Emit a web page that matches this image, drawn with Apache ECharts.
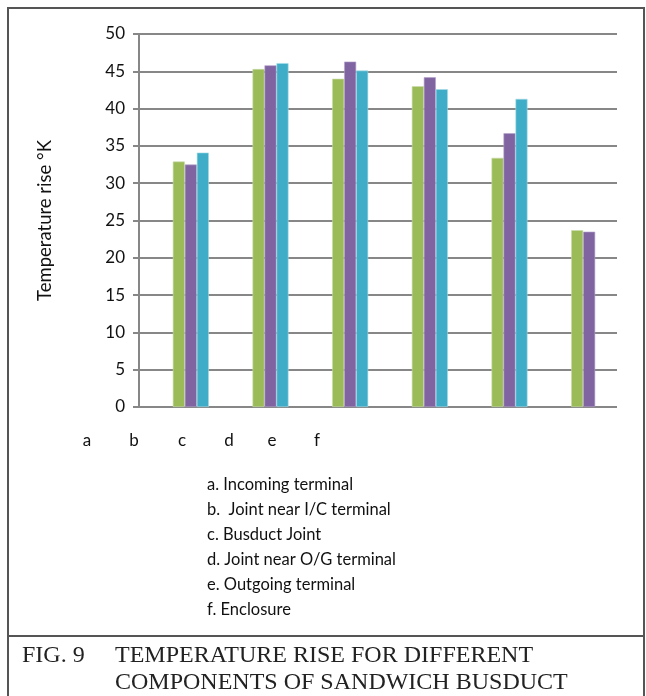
<!DOCTYPE html>
<html>
<head>
<meta charset="utf-8">
<script src="https://cdn.jsdelivr.net/npm/echarts@6/dist/echarts.min.js"></script>
<style>
  html, body { margin: 0; padding: 0; background: #fff; }
  #chart { width: 646px; height: 696px; }
</style>
</head>
<body>
<div id="chart"></div>
<script>
// Components measured along the sandwich busduct
const components = ['Incoming terminal', 'Joint near I/C terminal', 'Busduct Joint',
  'Joint near O/G terminal', 'Outgoing terminal', 'Enclosure'];
// Temperature rise (°K) for the three measurement sets
const seriesGreen  = [32.9, 45.3, 44.0, 43.0, 33.4, 23.7];
const seriesPurple = [32.5, 45.8, 46.3, 44.2, 36.7, 23.5];
const seriesCyan   = [34.1, 46.1, 45.1, 42.6, 41.3, null];
// Value axis ticks
const yMin = 0, yMax = 50, yStep = 5;
// Letter row under the plot and the key list
const letterLabels = ['a', 'b', 'c', 'd', 'e', 'f'];
const keyLines = ['a. Incoming terminal', 'b.  Joint near I/C terminal', 'c. Busduct Joint',
  'd. Joint near O/G terminal', 'e. Outgoing terminal', 'f. Enclosure'];
const captionLines = ['TEMPERATURE RISE FOR DIFFERENT', 'COMPONENTS OF SANDWICH BUSDUCT'];

const sans = 'Lato, "Open Sans", sans-serif';
const serif = '"Liberation Serif", "DejaVu Serif", serif';
const gridColor = '#878787';

const letterX = [87, 134, 182, 229, 272, 317];

const graphics = [
  // outer frame and caption divider
  { type: 'rect', shape: { x: 8, y: 8, width: 636, height: 700 },
    style: { fill: 'none', stroke: '#555', lineWidth: 2 }, silent: true },
  { type: 'line', shape: { x1: 8, y1: 636, x2: 644, y2: 636 },
    style: { stroke: '#555', lineWidth: 2 }, silent: true },
  { type: 'text', x: 22, y: 656,
    style: { text: 'FIG. 9', font: '24px ' + serif, fill: '#222', textVerticalAlign: 'middle' } }
];
letterLabels.forEach((t, i) => {
  graphics.push({ type: 'text', x: letterX[i], y: 441,
    style: { text: t, font: '17px ' + sans, fill: '#111', textAlign: 'center', textVerticalAlign: 'middle' } });
});
keyLines.forEach((t, i) => {
  graphics.push({ type: 'text', x: 207, y: 485 + i * 25,
    style: { text: t, font: '16.5px ' + sans, fill: '#111', textVerticalAlign: 'middle' } });
});
captionLines.forEach((t, i) => {
  graphics.push({ type: 'text', x: 115, y: 656 + i * 27,
    style: { text: t, font: '24px ' + serif, fill: '#222', textVerticalAlign: 'middle' } });
});

const chart = echarts.init(document.getElementById('chart'), null, { renderer: 'canvas' });
chart.setOption({
  animation: false,
  backgroundColor: '#fff',
  grid: [
    // frame grid: value axis and gridlines
    { left: 139, top: 34, width: 478, height: 373 },
    // bar grid
    { left: 151, top: 34, width: 478, height: 373 }
  ],
  xAxis: [
    { gridIndex: 0, type: 'category', data: components, show: false },
    { gridIndex: 1, type: 'category', data: components, show: false }
  ],
  yAxis: [
    {
      gridIndex: 0, type: 'value', min: yMin, max: yMax, interval: yStep,
      name: 'Temperature rise °K', nameLocation: 'middle', nameGap: 84, nameRotate: 90,
      nameTextStyle: { fontFamily: sans, fontSize: 18.5, color: '#111' },
      axisLine: { show: true, lineStyle: { color: gridColor, width: 2 } },
      axisTick: { show: true, length: 6, lineStyle: { color: gridColor, width: 2 } },
      axisLabel: { fontFamily: sans, fontSize: 17, color: '#111', margin: 14 },
      splitLine: { show: true, lineStyle: { color: gridColor, width: 2 } }
    },
    { gridIndex: 1, type: 'value', min: yMin, max: yMax, interval: yStep, show: false,
      splitLine: { show: false } }
  ],
  series: [
    { type: 'bar', xAxisIndex: 1, yAxisIndex: 1, data: seriesGreen, barWidth: 12, barGap: '0%',
      itemStyle: { color: '#9BBB59', borderColor: '#c9dcaa', borderWidth: 0.6 } },
    { type: 'bar', xAxisIndex: 1, yAxisIndex: 1, data: seriesPurple, barWidth: 12, barGap: '0%',
      itemStyle: { color: '#8064A2', borderColor: '#b3a2c9', borderWidth: 0.6 } },
    { type: 'bar', xAxisIndex: 1, yAxisIndex: 1, data: seriesCyan, barWidth: 12, barGap: '0%',
      itemStyle: { color: '#3FADC7', borderColor: '#a6dbe6', borderWidth: 0.6 } }
  ],
  graphic: graphics
});
</script>
</body>
</html>
